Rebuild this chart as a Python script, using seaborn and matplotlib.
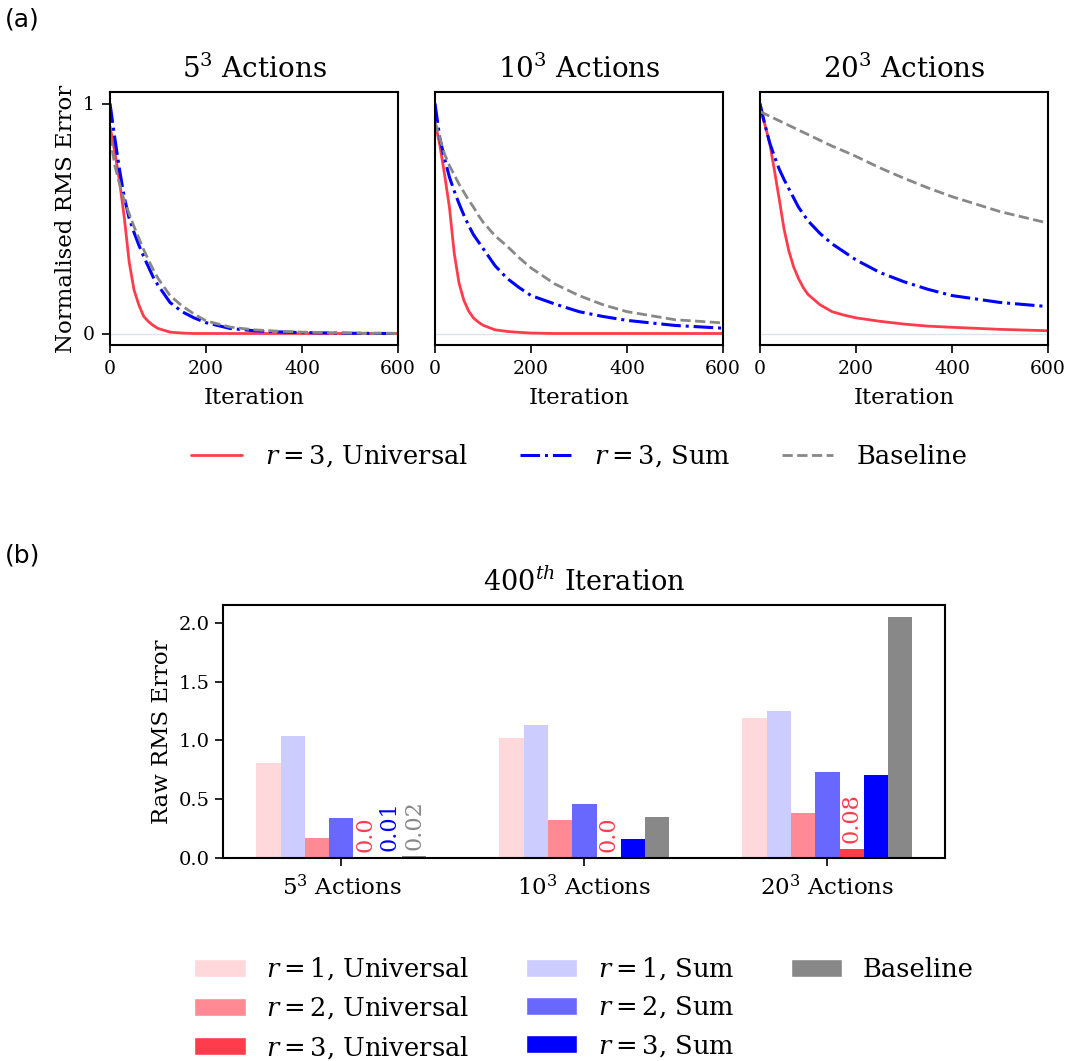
import pandas as pd
import matplotlib.pyplot as plt
import seaborn as sns
from matplotlib.patches import Patch

# iteration sample points
iters = [0, 10, 20, 30, 40, 50, 60, 70, 80, 90, 100, 125, 150, 175, 200, 250, 300, 350, 400, 500, 600]

# 5^3 actions
uni_5 = [0.90, 0.79, 0.66, 0.50, 0.31, 0.19, 0.125, 0.075, 0.052, 0.035, 0.022, 0.006, 0.002, 0.0, 0.0,
         0.0, 0.0, 0.0, 0.0, 0.0, 0.0]
sum_5 = [1.0, 0.85, 0.71, 0.59, 0.50, 0.44, 0.385, 0.335, 0.29, 0.245, 0.21, 0.135, 0.095, 0.068, 0.047,
         0.022, 0.012, 0.007, 0.004, 0.001, 0.0]
base_5 = [0.86, 0.73, 0.65, 0.575, 0.52, 0.465, 0.415, 0.365, 0.32, 0.278, 0.24, 0.165, 0.12, 0.085, 0.055,
          0.028, 0.016, 0.01, 0.006, 0.002, 0.0]

# 10^3 actions
uni_10 = [0.92, 0.82, 0.69, 0.55, 0.35, 0.22, 0.145, 0.098, 0.068, 0.05, 0.036, 0.016, 0.009, 0.005, 0.002,
          0.0, 0.0, 0.0, 0.0, 0.0, 0.0]
sum_10 = [1.0, 0.85, 0.76, 0.68, 0.62, 0.565, 0.515, 0.47, 0.43, 0.40, 0.37, 0.295, 0.24, 0.20, 0.165,
          0.128, 0.095, 0.074, 0.057, 0.035, 0.023]
base_10 = [0.92, 0.85, 0.78, 0.73, 0.69, 0.65, 0.615, 0.58, 0.55, 0.515, 0.485, 0.425, 0.38, 0.33, 0.285,
           0.215, 0.165, 0.125, 0.095, 0.06, 0.046]

# 20^3 actions
uni_20 = [0.98, 0.91, 0.83, 0.71, 0.585, 0.455, 0.36, 0.29, 0.24, 0.20, 0.17, 0.125, 0.095, 0.08, 0.068,
          0.053, 0.041, 0.032, 0.027, 0.018, 0.012]
sum_20 = [1.0, 0.91, 0.83, 0.77, 0.715, 0.67, 0.63, 0.59, 0.55, 0.52, 0.49, 0.435, 0.39, 0.355, 0.32,
          0.265, 0.225, 0.192, 0.165, 0.135, 0.117]
base_20 = [0.965, 0.955, 0.945, 0.935, 0.925, 0.915, 0.905, 0.895, 0.885, 0.875, 0.865, 0.84, 0.815, 0.793,
           0.77, 0.72, 0.675, 0.633, 0.595, 0.53, 0.48]

panel_titles = ['$5^3$ Actions', '$10^3$ Actions', '$20^3$ Actions']
curves = [(uni_5, sum_5, base_5), (uni_10, sum_10, base_10), (uni_20, sum_20, base_20)]
line_labels = ['$r=3$, Universal', '$r=3$, Sum', 'Baseline']

# bar data at 400th iteration
groups = ['$5^3$ Actions', '$10^3$ Actions', '$20^3$ Actions']
methods = ['r1_uni', 'r1_sum', 'r2_uni', 'r2_sum', 'r3_uni', 'r3_sum', 'base']
method_labels = {'r1_uni': '$r=1$, Universal', 'r1_sum': '$r=1$, Sum',
                 'r2_uni': '$r=2$, Universal', 'r2_sum': '$r=2$, Sum',
                 'r3_uni': '$r=3$, Universal', 'r3_sum': '$r=3$, Sum',
                 'base': 'Baseline'}
vals_5 = [0.81, 1.04, 0.17, 0.34, 0.0, 0.01, 0.02]
vals_10 = [1.02, 1.13, 0.32, 0.46, 0.0, 0.16, 0.35]
vals_20 = [1.19, 1.25, 0.38, 0.73, 0.08, 0.71, 2.05]

red = '#ff3c4c'
blue = '#0000ff'
grey = '#888888'
bar_colors = {'r1_uni': '#ffd8db', 'r1_sum': '#ccccff',
              'r2_uni': '#ff8a94', 'r2_sum': '#6868ff',
              'r3_uni': red, 'r3_sum': blue, 'base': grey}

sns.set_theme(style='ticks')
plt.rcParams['font.family'] = ['DejaVu Serif']
plt.rcParams['mathtext.fontset'] = 'dejavuserif'
plt.rcParams['axes.edgecolor'] = 'black'
plt.rcParams['axes.linewidth'] = 1.5
plt.rcParams['xtick.color'] = 'black'
plt.rcParams['ytick.color'] = 'black'
plt.rcParams['text.color'] = 'black'
plt.rcParams['axes.labelcolor'] = 'black'

fig = plt.figure(figsize=(10.7, 10.61), dpi=100)

# ---- panel (a)
lefts = [110, 435, 760]
line_handles = []
for i, (uni, sm, base) in enumerate(curves):
    ax = fig.add_axes([lefts[i] / 1070, 1 - 345 / 1061, 288 / 1070, 253 / 1061])
    ax.axhline(0, color='#dde3ea', lw=1, zorder=0)
    sns.lineplot(x=iters, y=uni, ax=ax, color=red, lw=2)
    sns.lineplot(x=iters, y=sm, ax=ax, color=blue, lw=2.2, linestyle='-.')
    sns.lineplot(x=iters, y=base, ax=ax, color=grey, lw=2, linestyle='--')
    ax.set_xlim(0, 600)
    ax.set_ylim(-0.05, 1.05)
    ax.set_xticks([0, 200, 400, 600])
    ax.tick_params(labelsize=13.5, length=6, width=1.2, pad=5)
    ax.set_xlabel('Iteration', fontsize=16.5, labelpad=6)
    ax.set_title(panel_titles[i], fontsize=20, pad=10)
    if i == 0:
        ax.set_yticks([0, 1])
        ax.set_ylabel('Normalised RMS Error', fontsize=16.5)
        line_handles = ax.get_lines()[1:4]
    else:
        ax.set_yticks([])

fig.legend(line_handles, line_labels, loc='center', bbox_to_anchor=(579 / 1070, 1 - 456 / 1061),
           ncol=3, frameon=False, fontsize=18.5, handlelength=2.0, handletextpad=0.9,
           columnspacing=2.0)

# ---- panel (b)
rows = []
for g, vals in zip(groups, [vals_5, vals_10, vals_20]):
    for m, v in zip(methods, vals):
        rows.append({'group': g, 'method': m, 'value': v})
bar_df = pd.DataFrame(rows)

axb = fig.add_axes([223 / 1070, 1 - 858 / 1061, 722 / 1070, 253 / 1061])
sns.barplot(data=bar_df, x='group', y='value', hue='method', hue_order=methods,
            palette=bar_colors, width=0.7, saturation=1, linewidth=0,
            legend=False, ax=axb)
axb.set_xlim(-0.487, 2.484)
axb.set_xlabel('')
axb.set_ylabel('Raw RMS Error', fontsize=16.5)
axb.set_title('400$^{th}$ Iteration', fontsize=19.5, pad=10)
axb.tick_params(axis='x', labelsize=16.5, length=6, width=1.2, pad=6)
axb.tick_params(axis='y', labelsize=14, length=6, width=1.2)

# small values get a rotated label
for gi, vals in enumerate([vals_5, vals_10, vals_20]):
    for mi, (m, v) in enumerate(zip(methods, vals)):
        if v < 0.1:
            axb.text(gi + (mi - 3) * 0.1, v + 0.05, str(round(v, 2)), rotation=90,
                     ha='center', va='bottom', color=bar_colors[m], fontsize=16)

legend_order = ['r1_uni', 'r2_uni', 'r3_uni', 'r1_sum', 'r2_sum', 'r3_sum', 'base']
patches = [Patch(facecolor=bar_colors[m], label=method_labels[m]) for m in legend_order]
# two empty slots so that Baseline sits alone in the third column
patches += [Patch(facecolor='none', edgecolor='none', label=' '),
            Patch(facecolor='none', edgecolor='none', label=' ')]
fig.legend(handles=patches, loc='center', bbox_to_anchor=(584 / 1070, 1 - 1008 / 1061),
           ncol=3, frameon=False, fontsize=18.5, handlelength=2.0, handleheight=0.75,
           handletextpad=0.8, columnspacing=2.2, labelspacing=0.47)

fig.text(5 / 1070, 1 - 20 / 1061, '(a)', family='DejaVu Sans', fontsize=18, va='center')
fig.text(5 / 1070, 1 - 555 / 1061, '(b)', family='DejaVu Sans', fontsize=18, va='center')

fig.savefig('out.png', dpi=100)
